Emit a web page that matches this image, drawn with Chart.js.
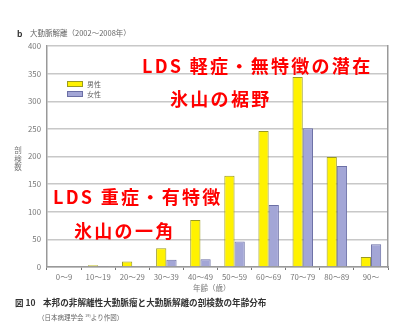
<!DOCTYPE html>
<html>
<head>
<meta charset="utf-8">
<script src="https://cdn.jsdelivr.net/npm/chart.js@4/dist/chart.umd.min.js"></script>
<style>
  body { margin: 0; background: #fff; }
  #wrap { position: relative; width: 418px; height: 327px; overflow: hidden;
          font-family: "Noto Sans CJK JP", "Noto Sans", sans-serif; }
  canvas { position: absolute; left: 0; top: 0; }
  .t { position: absolute; white-space: nowrap; line-height: 1; transform: translateY(-50%); }
  .red { color: #ff0000; font-weight: bold; font-size: 18px; letter-spacing: 2.3px; }
  .gray { color: #666; }
  .box { position: absolute; width: 16px; height: 6px; }
  .ytitle { position: absolute; left: 14px; top: 146px; width: 8px; font-size: 7.5px;
            line-height: 1.15; color: #777; text-align: center; }
</style>
</head>
<body>
<div id="wrap">
  <canvas id="c" width="418" height="327"></canvas>

  <div class="t" style="left:17px;top:33px;font-size:8.5px;font-weight:bold;color:#333;">b</div>
  <div class="t gray" style="left:30px;top:33px;font-size:7.5px;">大動脈解離（2002〜2008年）</div>

  <div class="ytitle">剖<br>検<br>数</div>

  <div class="box" style="left:67px;top:81px;background:#fff200;border:1px solid #9a9a20;box-sizing:border-box;"></div>
  <div class="t gray" style="left:87px;top:84px;font-size:7px;">男性</div>
  <div class="box" style="left:67px;top:91px;background:#a3a6d6;border:1px solid #6b6fa5;box-sizing:border-box;"></div>
  <div class="t gray" style="left:87px;top:94px;font-size:7px;">女性</div>

  <div class="t red" style="left:142px;top:65px;">LDS 軽症・無特徴の潜在</div>
  <div class="t red" style="left:170px;top:97.5px;">氷山の裾野</div>
  <div class="t red" style="left:53px;top:196px;">LDS 重症・有特徴</div>
  <div class="t red" style="left:74px;top:229.5px;">氷山の一角</div>

  <div class="t gray" style="left:193px;top:288px;font-size:7.5px;color:#777;">年齢（歳）</div>

  <div class="t" style="left:15px;top:302px;font-size:8.5px;font-weight:bold;color:#333;">図 10</div>
  <div class="t" style="left:43px;top:302px;font-size:8.6px;font-weight:bold;color:#333;">本邦の非解離性大動脈瘤と大動脈解離の剖検数の年齢分布</div>
  <div class="t gray" style="left:38px;top:317px;font-size:6.5px;">（日本病理学会 <sup style="font-size:4px;">19)</sup>より作図）</div>
</div>

<script>
// 年齢階級
const ageGroups = ["0〜9", "10〜19", "20〜29", "30〜39", "40〜49", "50〜59", "60〜69", "70〜79", "80〜89", "90〜"];
// 剖検数
const maleCounts = [0, 3, 10, 34, 85, 165, 246, 344, 199, 18];
const femaleCounts = [0, 1, 2, 13, 14, 46, 112, 251, 183, 41];
const seriesNames = ["男性", "女性"];
const yMax = 400;
const yStep = 50;

const FONT = '"Noto Sans CJK JP", "Noto Sans", sans-serif';

new Chart(document.getElementById("c"), {
  type: "bar",
  data: {
    labels: ageGroups,
    datasets: [
      { label: seriesNames[0], data: maleCounts, backgroundColor: "#fff200",
        borderColor: "#9a9a20", borderWidth: 1 },
      { label: seriesNames[1], data: femaleCounts, backgroundColor: "#a3a6d6",
        borderColor: "#6b6fa5", borderWidth: 1 }
    ]
  },
  options: {
    responsive: false,
    animation: false,
    devicePixelRatio: 1,
    categoryPercentage: 0.6,
    barPercentage: 1.0,
    layout: { padding: { left: 0, top: 46, right: 30, bottom: 0 } },
    plugins: { legend: { display: false }, tooltip: { enabled: false } },
    scales: {
      x: {
        grid: { display: true, drawOnChartArea: false, drawTicks: true, tickLength: 3,
                color: "#777", offset: true },
        border: { color: "#999", width: 1.5 },
        ticks: { color: "#777", font: { size: 7.8, family: FONT }, padding: 2,
                 maxRotation: 0, autoSkip: false },
        afterFit(s) { s.height = 60; }
      },
      y: {
        min: 0, max: yMax,
        ticks: { stepSize: yStep, color: "#777", font: { size: 7.8, family: FONT }, padding: 6 },
        grid: { color: "#c8c8c8", lineWidth: 1.5, drawTicks: false },
        border: { color: "#999", width: 1.5 },
        afterFit(s) { s.width = 47; }
      },
      y2: {
        position: "right", min: 0, max: yMax,
        ticks: { display: false },
        grid: { drawOnChartArea: false, drawTicks: false },
        border: { display: true, color: "#999", width: 1.5 },
        afterFit(s) { s.width = 0; }
      }
    }
  }
});
</script>
</body>
</html>
